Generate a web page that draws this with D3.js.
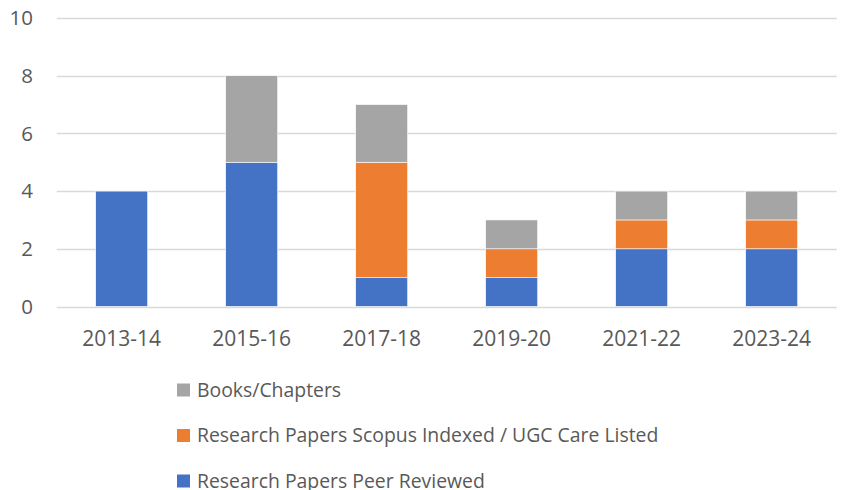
<!DOCTYPE html>
<html><head><meta charset="utf-8">
<script src="https://cdn.jsdelivr.net/npm/d3@7"></script>
<style>body{margin:0;background:#fff;}svg{display:block;}text{font-family:"Open Sans",sans-serif;fill:#595959;}</style>
</head><body><svg id="c" width="842" height="490"></svg>
<script>
const categories = ["2013-14","2015-16","2017-18","2019-20","2021-22","2023-24"];
const peerReviewed = [4,5,1,1,2,2];
const scopusUGC = [0,0,4,1,1,1];
const books = [0,3,2,1,1,1];
const seriesNames = ["Research Papers Peer Reviewed","Research Papers Scopus Indexed / UGC Care Listed","Books/Chapters"];
const seriesColors = ["#4472C4","#ED7D31","#A5A5A5"];
const yTicks = [0,2,4,6,8,10];

const svg = d3.select("#c");
const x = d3.scaleBand().domain(categories).range([56.7,836.7]).paddingInner(0.6).paddingOuter(0.3);
const y = d3.scaleLinear().domain([0,10]).range([306.5,18]);

const seriesVals = [peerReviewed, scopusUGC, books];
const rows = categories.map((c,i)=>{const o={cat:c}; seriesNames.forEach((s,j)=>o[s]=seriesVals[j][i]); return o;});
const stack = d3.stack().keys(seriesNames)(rows);

// gridlines
svg.append("g").selectAll("line").data(yTicks).join("line")
  .attr("x1",56.7).attr("x2",836.7)
  .attr("y1",d=>Math.round(y(d))+0.5).attr("y2",d=>Math.round(y(d))+0.5)
  .attr("stroke","#D9D9D9").attr("stroke-width",1.3);

// y labels
svg.append("g").selectAll("text").data(yTicks).join("text")
  .attr("x",33).attr("y",d=>y(d)).attr("dy","0.35em").attr("text-anchor","end")
  .attr("font-size",20.5).text(d=>d);

// bars
stack.forEach((layer,j)=>{
  svg.append("g").selectAll("rect").data(layer.filter(d=>d[1]-d[0]>0)).join("rect")
    .attr("x",d=>x(d.data.cat)).attr("width",x.bandwidth())
    .attr("y",d=>y(d[1])).attr("height",d=>y(d[0])-y(d[1]))
    .attr("fill",seriesColors[j]).attr("stroke","#fff").attr("stroke-width",0.6);
});

// x labels
svg.append("g").selectAll("text").data(categories).join("text")
  .attr("x",d=>x(d)+x.bandwidth()/2).attr("y",339).attr("dy","0.35em")
  .attr("text-anchor","middle").attr("font-size",21).text(d=>d);

// legend (reverse order)
const legendOrder = [2,1,0];
const lg = svg.append("g").selectAll("g").data(legendOrder).join("g")
  .attr("transform",(d,i)=>`translate(177,${390+i*45.5})`);
lg.append("rect").attr("x",0).attr("y",-6.5).attr("width",13).attr("height",13).attr("fill",d=>seriesColors[d]);
lg.append("text").attr("x",20).attr("y",0).attr("dy","0.35em").attr("font-size",19.4).text(d=>seriesNames[d]);
</script></body></html>
